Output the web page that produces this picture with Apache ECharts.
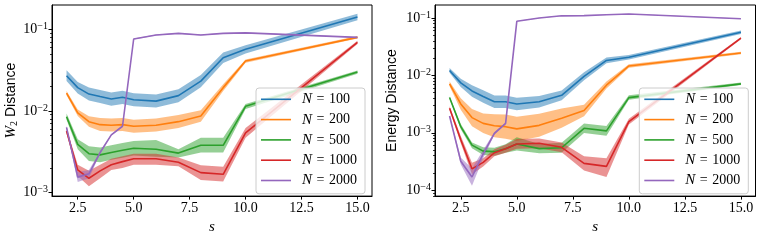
<!DOCTYPE html>
<html>
<head>
<meta charset="utf-8">
<script src="https://cdn.jsdelivr.net/npm/echarts@6/dist/echarts.min.js"></script>
<style>
html,body{margin:0;padding:0;background:#fff;}
#c{width:761px;height:240px;}
</style>
</head>
<body>
<div id="c"></div>
<script>
// x values (s)
const S = [2, 2.5, 3, 3.5, 4, 4.5, 5, 6, 7, 8, 9, 10, 15];
const NAMES = ['N = 100', 'N = 200', 'N = 500', 'N = 1000', 'N = 2000'];
const X_TICKS = [2.5, 5, 7.5, 10, 12.5, 15];
const W2_TICKS = [-3, -2, -1];      // exponents of 10
const EN_TICKS = [-4, -3, -2, -1];

// ---- W2 distance (left) ----
const w2_100    = [0.027, 0.0193, 0.0161, 0.015, 0.014, 0.0147, 0.0137, 0.0132, 0.0154, 0.0232, 0.0448, 0.0568, 0.1415];
const w2_100_lo = [0.0233, 0.0164, 0.0134, 0.0125, 0.0116, 0.0122, 0.0114, 0.0110, 0.0128, 0.0195, 0.0386, 0.0506, 0.129];
const w2_100_hi = [0.0314, 0.0227, 0.0194, 0.0180, 0.0168, 0.0177, 0.0165, 0.0159, 0.0185, 0.0276, 0.0520, 0.0637, 0.155];

const w2_200    = [0.0165, 0.0095, 0.0074, 0.0068, 0.0067, 0.0068, 0.0065, 0.0067, 0.0074, 0.0087, 0.0193, 0.0408, 0.0796];
const w2_200_lo = [0.0156, 0.0087, 0.0064, 0.0057, 0.0056, 0.0057, 0.0054, 0.0056, 0.0062, 0.0074, 0.0176, 0.0390, 0.0770];
const w2_200_hi = [0.0175, 0.0104, 0.0086, 0.0082, 0.0081, 0.0082, 0.0078, 0.0081, 0.0089, 0.0102, 0.0212, 0.0427, 0.0825];

const w2_500    = [0.0085, 0.0039, 0.0030, 0.0029, 0.0031, 0.0033, 0.0035, 0.0034, 0.00305, 0.0038, 0.0038, 0.0114, 0.0299];
const w2_500_lo = [0.0078, 0.0034, 0.00244, 0.00236, 0.00252, 0.00268, 0.00285, 0.00276, 0.0027, 0.0031, 0.0031, 0.0106, 0.0286];
const w2_500_hi = [0.0093, 0.0045, 0.0037, 0.00357, 0.00381, 0.00406, 0.0043, 0.0044, 0.0034, 0.0047, 0.0047, 0.0122, 0.0313];

const w2_1000    = [0.0057, 0.0019, 0.0015, 0.00185, 0.0022, 0.0024, 0.0026, 0.0026, 0.00236, 0.00176, 0.00168, 0.0054, 0.0693];
const w2_1000_lo = [0.0053, 0.0016, 0.0012, 0.0015, 0.0019, 0.0020, 0.0022, 0.0022, 0.0021, 0.00143, 0.00137, 0.0047, 0.066];
const w2_1000_hi = [0.0061, 0.0022, 0.00185, 0.0022, 0.0026, 0.0028, 0.0030, 0.0030, 0.0027, 0.00217, 0.00207, 0.0062, 0.0726];

const w2_2000    = [0.0063, 0.00155, 0.0017, 0.0031, 0.0051, 0.0065, 0.076, 0.085, 0.089, 0.085, 0.089, 0.0904, 0.0796];
const w2_2000_lo = [0.0060, 0.00135, 0.0015, 0.0030, 0.0050, 0.0064, 0.075, 0.084, 0.088, 0.084, 0.088, 0.0894, 0.0788];
const w2_2000_hi = [0.0066, 0.00178, 0.0019, 0.0032, 0.0052, 0.0066, 0.077, 0.086, 0.090, 0.086, 0.090, 0.0914, 0.0804];

// ---- Energy distance (right) ----
const en_100    = [0.0122, 0.0074, 0.00536, 0.00429, 0.00348, 0.00348, 0.00318, 0.00348, 0.0045, 0.0096, 0.0182, 0.0207, 0.0564];
const en_100_lo = [0.0111, 0.0063, 0.00426, 0.00333, 0.0027, 0.0027, 0.00247, 0.00276, 0.0037, 0.0082, 0.0162, 0.0189, 0.0526];
const en_100_hi = [0.0134, 0.0087, 0.00675, 0.00552, 0.00448, 0.00448, 0.0041, 0.00438, 0.00547, 0.0113, 0.0204, 0.0227, 0.0604];

const en_200    = [0.00713, 0.00318, 0.00184, 0.00146, 0.00133, 0.00128, 0.00117, 0.00135, 0.0018, 0.00245, 0.00676, 0.0146, 0.0245];
const en_200_lo = [0.0065, 0.00253, 0.0013, 0.00099, 0.00084, 0.00079, 0.00072, 0.00085, 0.00122, 0.00195, 0.0059, 0.0136, 0.0234];
const en_200_hi = [0.0078, 0.0040, 0.0026, 0.00216, 0.00211, 0.00208, 0.0019, 0.00214, 0.00266, 0.00308, 0.0078, 0.0157, 0.0257];

const en_500    = [0.00412, 0.00128, 0.00061, 0.00048, 0.00047, 0.00053, 0.00064, 0.00053, 0.00055, 0.0012, 0.00108, 0.0041, 0.00713];
const en_500_lo = [0.0039, 0.00115, 0.00054, 0.00041, 0.0004, 0.00045, 0.00049, 0.00044, 0.00045, 0.00099, 0.00089, 0.00375, 0.0068];
const en_500_hi = [0.0043, 0.00142, 0.00068, 0.00056, 0.00055, 0.00063, 0.00084, 0.00064, 0.00067, 0.00146, 0.00131, 0.00449, 0.0075];

const en_1000    = [0.00269, 0.00076, 0.000236, 0.000306, 0.00045, 0.00053, 0.00064, 0.00066, 0.00056, 0.000294, 0.00026, 0.00156, 0.0446];
const en_1000_lo = [0.0025, 0.00066, 0.00019, 0.00026, 0.00039, 0.00045, 0.00053, 0.00054, 0.00046, 0.00022, 0.00017, 0.00139, 0.0426];
const en_1000_hi = [0.0029, 0.00088, 0.0003, 0.00036, 0.00052, 0.00062, 0.00078, 0.0008, 0.00068, 0.00039, 0.00036, 0.00175, 0.0467];

const en_2000    = [0.00196, 0.00032, 0.00017, 0.00043, 0.00098, 0.00146, 0.0875, 0.1, 0.109, 0.11, 0.114, 0.117, 0.097];
const en_2000_lo = [0.0019, 0.00028, 0.00012, 0.00036, 0.00093, 0.0014, 0.0866, 0.099, 0.108, 0.109, 0.113, 0.116, 0.096];
const en_2000_hi = [0.0020, 0.00037, 0.00024, 0.0005, 0.00103, 0.0015, 0.0884, 0.101, 0.110, 0.111, 0.115, 0.118, 0.098];

const COLORS = ['#1f77b4', '#ff7f0e', '#2ca02c', '#d62728', '#9467bd'];
const SERIF = "'Liberation Serif', 'DejaVu Serif', serif";
const SANS = "'Liberation Sans', 'DejaVu Sans', sans-serif";

const W2 = [[w2_100, w2_100_lo, w2_100_hi], [w2_200, w2_200_lo, w2_200_hi], [w2_500, w2_500_lo, w2_500_hi],
            [w2_1000, w2_1000_lo, w2_1000_hi], [w2_2000, w2_2000_lo, w2_2000_hi]];
const EN = [[en_100, en_100_lo, en_100_hi], [en_200, en_200_lo, en_200_hi], [en_500, en_500_lo, en_500_hi],
            [en_1000, en_1000_lo, en_1000_hi], [en_2000, en_2000_lo, en_2000_hi]];

const L = Math.log10;
const series = [];
function bandRender(color) {
  return function (params, api) {
    if (params.dataIndexInside !== 0) return null;
    const n = params.dataInsideLength;
    const top = [], bot = [];
    for (let k = 0; k < n; k++) {
      const x = api.value(0, k);
      top.push(api.coord([x, api.value(2, k)]));
      bot.push(api.coord([x, api.value(1, k)]));
    }
    return {
      type: 'polygon',
      shape: { points: top.concat(bot.reverse()) },
      style: { fill: color, opacity: 0.5, stroke: null }
    };
  };
}
function addPlot(gi, yIdx, sets) {
  sets.forEach((set, i) => {
    const [m, lo, hi] = set;
    series.push({
      type: 'custom', name: 'band' + gi + i, xAxisIndex: gi, yAxisIndex: yIdx,
      coordinateSystem: 'cartesian2d', clip: true, silent: true, z: 2,
      data: S.map((x, k) => [x, L(lo[k]), L(hi[k])]),
      encode: { x: 0, y: [1, 2] },
      renderItem: bandRender(COLORS[i])
    });
    series.push({
      type: 'line', name: NAMES[i], xAxisIndex: gi, yAxisIndex: yIdx,
      data: S.map((x, k) => [x, L(m[k])]), showSymbol: false, symbol: 'none',
      color: COLORS[i], lineStyle: { width: 1.6, color: COLORS[i] }, z: 3
    });
  });
}
addPlot(0, 0, W2);
addPlot(1, 2, EN);

const W_MIN = -3.042, W_MAX = -0.703, E_MIN = -4.102, E_MAX = -0.774;
function minorVals(mn, mx) {
  const out = [];
  for (let k = -6; k <= 0; k++) for (let m = 2; m <= 9; m++) {
    const v = k + L(m);
    if (v >= mn && v <= mx) out.push(v);
  }
  return out;
}
const richTick = {
  b: { fontFamily: SERIF, fontSize: 14, lineHeight: 16, color: '#000' },
  s: { fontFamily: SERIF, fontSize: 10, lineHeight: 10, verticalAlign: 'top', color: '#000' }
};
function mainY(gi, mn, mx, ticks, name, gap) {
  return {
    type: 'value', gridIndex: gi, min: mn, max: mx, position: 'left',
    name: name.text, nameLocation: 'middle', nameRotate: 90, nameGap: gap,
    nameTextStyle: name.style,
    axisLine: { show: true, lineStyle: { color: '#000', width: 1 } },
    axisTick: { show: true, customValues: ticks, length: 3.5, lineStyle: { color: '#000', width: 1 } },
    axisLabel: { customValues: ticks, margin: 4, formatter: v => '{b|10}{s|\u2212' + Math.round(-v) + '}', rich: richTick },
    splitLine: { show: false }
  };
}
function minorY(gi, mn, mx) {
  return {
    type: 'value', gridIndex: gi, min: mn, max: mx, position: 'left', offset: 0,
    axisLine: { show: false }, axisLabel: { show: false }, splitLine: { show: false },
    axisTick: { show: true, customValues: minorVals(mn, mx), length: 2, lineStyle: { color: '#000', width: 0.8 } }
  };
}
function xAx(gi) {
  return {
    type: 'value', gridIndex: gi, min: 1.35, max: 15.65,
    name: 's', nameLocation: 'middle', nameGap: 17,
    nameTextStyle: { fontFamily: SERIF, fontStyle: 'italic', fontSize: 15, color: '#000' },
    axisLine: { show: true, onZero: false, lineStyle: { color: '#000', width: 1 } },
    axisTick: { show: true, customValues: X_TICKS, length: 3.5, lineStyle: { color: '#000', width: 1 } },
    axisLabel: { customValues: X_TICKS, margin: 5, formatter: v => v.toFixed(1), fontFamily: SERIF, fontSize: 14, color: '#000' },
    splitLine: { show: false }
  };
}
function legend(left) {
  return {
    data: NAMES, orient: 'vertical', left: left, top: 88,
    icon: 'rect', itemWidth: 30, itemHeight: 1.6, itemGap: 4.3,
    padding: [3.3, 5, 5.3, 5],
    backgroundColor: 'rgba(255,255,255,0.8)', borderColor: '#cccccc', borderWidth: 1, borderRadius: 3,
    selectedMode: false,
    formatter: n => '{i|N}{e|=}{d|' + n.split('= ')[1] + '}',
    textStyle: {
      width: 58, padding: [0, 0, 0, 6], lineHeight: 16,
      rich: {
        i: { fontFamily: SERIF, fontStyle: 'italic', fontSize: 15, lineHeight: 16, color: '#000' },
        e: { fontFamily: SERIF, fontSize: 14, lineHeight: 16, padding: [0, 4.5, 0, 4.5], color: '#000' },
        d: { fontFamily: SERIF, fontSize: 14, lineHeight: 16, color: '#000' }
      }
    }
  };
}

const option = {
  animation: false,
  backgroundColor: '#fff',
  grid: [
    { left: 52, top: 5, width: 320, height: 197, show: true, borderColor: '#000', borderWidth: 1, backgroundColor: 'transparent' },
    { left: 435, top: 5, width: 320.5, height: 196, show: true, borderColor: '#000', borderWidth: 1, backgroundColor: 'transparent' }
  ],
  xAxis: [xAx(0), xAx(1)],
  yAxis: [
    mainY(0, W_MIN, W_MAX, W2_TICKS, {
      text: '{w|W}{s|2}{t| Distance}',
      style: { rich: {
        w: { fontFamily: SERIF, fontStyle: 'italic', fontSize: 15, lineHeight: 16, color: '#000' },
        s: { fontFamily: SERIF, fontSize: 10, lineHeight: 10, verticalAlign: 'bottom', color: '#000' },
        t: { fontFamily: SANS, fontSize: 14, lineHeight: 16, color: '#000' }
      } }
    }, 32),
    minorY(0, W_MIN, W_MAX),
    mainY(1, E_MIN, E_MAX, EN_TICKS, {
      text: 'Energy Distance',
      style: { fontFamily: SANS, fontSize: 14, color: '#000' }
    }, 36),
    minorY(1, E_MIN, E_MAX)
  ],
  legend: [legend(256), legend(639.3)],
  series: series
};
const chart = echarts.init(document.getElementById('c'), null, { renderer: 'canvas' });
chart.setOption(option);
</script>
</body>
</html>
